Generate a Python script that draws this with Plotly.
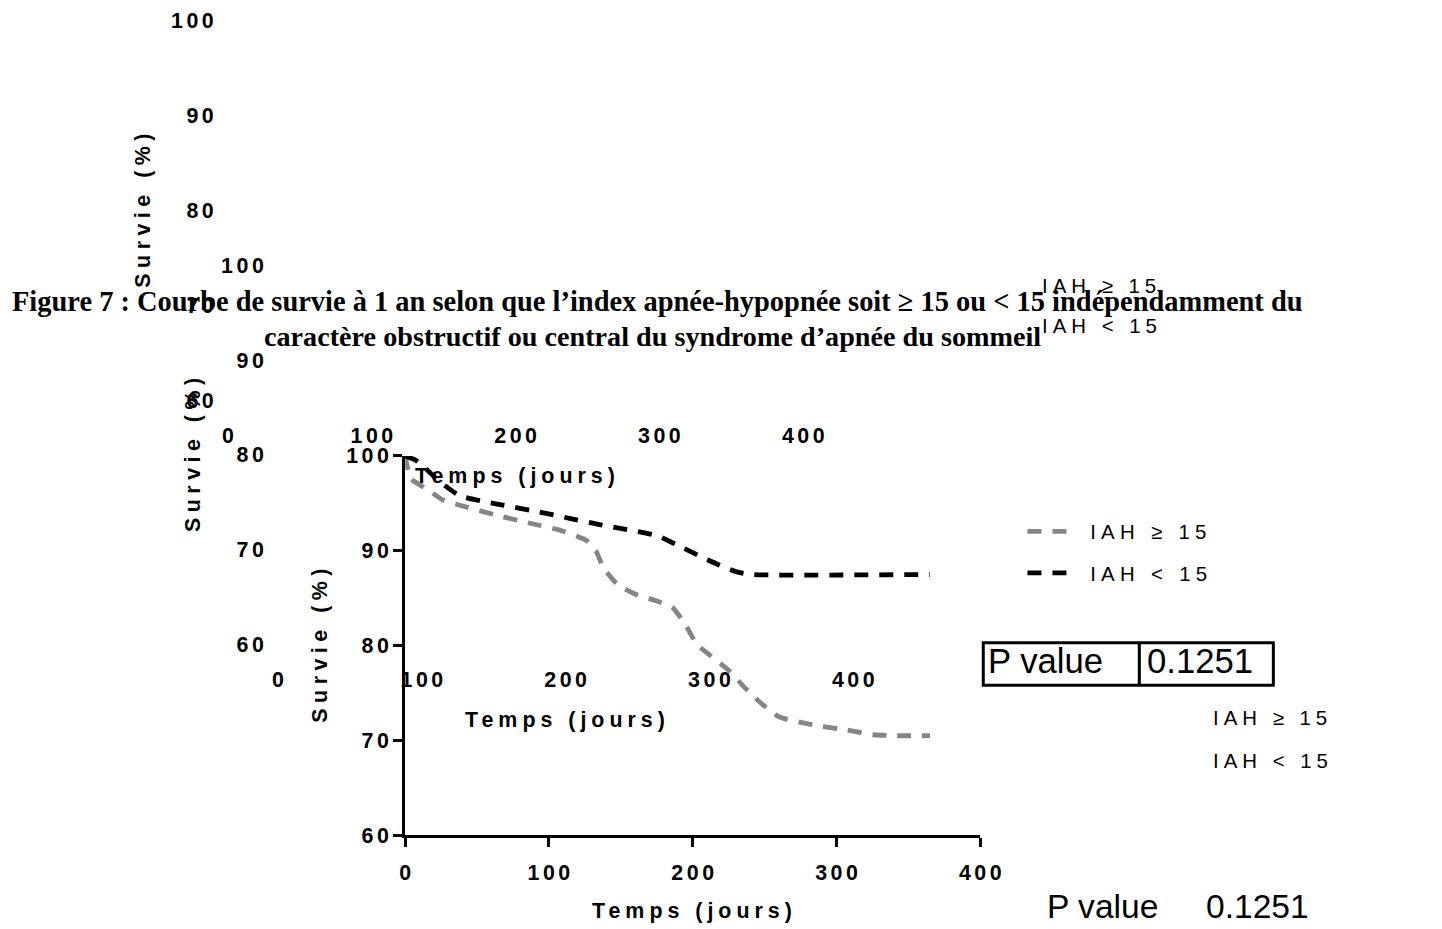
import plotly.graph_objects as go

# ---------------- data ----------------
series_names = ["IAH ≥ 15", "IAH &lt; 15"]
series_colors = ["#858585", "#000000"]

t_high = [0, 4, 13, 27, 38, 65, 87, 107, 126, 133, 138, 148, 159, 175, 186, 195,
          203, 211, 225, 236, 247, 260, 285, 307, 326, 340, 365]
s_high = [100, 97.6, 96.7, 95.3, 94.8, 93.7, 92.9, 92.2, 91.1, 89.9, 88.2, 86.4,
          85.5, 84.7, 84.0, 82.2, 80.1, 79.1, 77.4, 75.6, 74.0, 72.5, 71.6, 71.1,
          70.6, 70.5, 70.5]

t_low = [0, 8, 24, 38, 65, 93, 115, 137, 175, 192, 211, 230, 241, 365]
s_low = [100, 99.5, 97.3, 95.8, 94.9, 94.1, 93.4, 92.7, 91.6, 90.4, 89.0, 87.8,
         87.5, 87.5]

x_ticks = [0, 100, 200, 300, 400]
y_ticks = [60, 70, 80, 90, 100]
x_title = "Temps (jours)"
y_title = "Survie (%)"
p_label = "P value"
p_value = "0.1251"
caption_1 = ("Figure 7 : Courbe de survie à 1 an selon que l’index apnée-hypopnée "
             "soit ≥ 15 ou &lt; 15 indépendamment du")
caption_2 = "caractère obstructif ou central du syndrome d’apnée du sommeil"

# ---------------- layout helpers (target pixel positions -> paper) ----------------
W, H = 1442, 929
S, OFF = 0.981, 14.0


def X(xr):
    return min(1.0, max(0.0, ((xr - OFF) / S) / W))


def Y(yr):
    return min(1.0, max(0.0, 1 - ((yr - OFF) / S) / H))


def F(size):
    return round(size / S, 1)


def sp(text, ls):
    text = str(text)
    if len(text) < 2:
        return text
    return f"<span style='letter-spacing:{ls}px'>{text[:-1]}</span>{text[-1]}"


SANS = "Liberation Sans, Arial, sans-serif"
SERIF = "Liberation Serif, Times New Roman, serif"
tick_font = dict(family=SANS, size=F(21), color="black", weight="bold")
title_font = dict(family=SANS, size=F(21), color="black", weight="bold")
legend_font = dict(family=SANS, size=F(20), color="black")

# plot frame (target pixels)
X0, X1, YT, YB = 405, 980, 453, 835
# ghost copies of the axis texts (pixel offsets)
ghosts = [(-177, -438), (-127, -192)]

fig = go.Figure()

for name, t, s, c in zip(series_names, [t_high, t_low], [s_high, s_low], series_colors):
    fig.add_trace(go.Scatter(
        x=t, y=s, mode="lines", legendgroup=name,
        name=f"<span style='letter-spacing:12px'>\u00a0</span>" + sp(name, 5.3),
        line=dict(color=c, width=4.8, dash="14px,11px", shape="spline", smoothing=0.5),
        hoverinfo="skip"))

axis_common = dict(showgrid=False, zeroline=False, ticks="outside", ticklen=9,
                   tickwidth=3, tickfont=tick_font)

layout = dict(
    width=W, height=H, margin=dict(l=0, r=0, t=0, b=0),
    paper_bgcolor="white", plot_bgcolor="rgba(0,0,0,0)",
    xaxis=dict(domain=[X(X0), X(X1)], range=[0, 400], anchor="y",
               tickvals=x_ticks, ticktext=[sp(v, 3.5) for v in x_ticks],
               showline=True, linewidth=3, linecolor="black", tickcolor="black",
               ticklabelstandoff=7, **axis_common),
    yaxis=dict(domain=[Y(YB), Y(YT)], range=[60, 100], anchor="x",
               tickvals=y_ticks, ticktext=[sp(v, 3.5) for v in y_ticks],
               showline=True, linewidth=3, linecolor="black", tickcolor="black",
               **axis_common),
    showlegend=True,
    legend=dict(x=((1031 - OFF) / S - 9) / W, y=1 - ((529 - OFF - 20) / S) / H,
                xanchor="left", yanchor="top",
                font=legend_font, tracegroupgap=12, bgcolor="rgba(0,0,0,0)",
                itemwidth=40),
)

annotations = []
shapes = []

for i, (dx, dy) in enumerate([(0, 0)] + ghosts):
    annotations.append(dict(x=X(692 + dx), y=Y(911 + dy), xref="paper", yref="paper",
                            text=sp(x_title, 5), showarrow=False, font=title_font,
                            xanchor="center", yanchor="middle"))
    annotations.append(dict(x=X(320 + dx), y=Y(644 + dy), xref="paper", yref="paper",
                            text=sp(y_title, 5.5), showarrow=False, font=title_font,
                            textangle=-90, xanchor="center", yanchor="middle"))
    if i > 0:
        n = i + 1
        layout[f"xaxis{n}"] = dict(domain=[X(X0 + dx), X(X1 + dx)], range=[0, 400],
                                   anchor=f"y{n}", tickvals=x_ticks,
                                   ticktext=[sp(v, 3.5) for v in x_ticks], showline=False,
                                   tickcolor="rgba(0,0,0,0)", ticklabelstandoff=7,
                                   **axis_common)
        layout[f"yaxis{n}"] = dict(domain=[Y(YB + dy), Y(YT + dy)], range=[60, 100],
                                   anchor=f"x{n}", tickvals=y_ticks,
                                   ticktext=[sp(v, 3.5) for v in y_ticks], showline=False,
                                   tickcolor="rgba(0,0,0,0)", **axis_common)
        fig.add_trace(go.Scatter(x=[], y=[], xaxis=f"x{n}", yaxis=f"y{n}",
                                 showlegend=False, hoverinfo="skip"))

# ghost legends
for (lx, ly, gap) in [(1040, 284, 40), (1211, 719, 43)]:
    for k, name in enumerate(series_names):
        annotations.append(dict(x=X(lx), y=Y(ly - 2 + k * gap), xref="paper", yref="paper",
                                text=sp(name, 5.0), showarrow=False, font=legend_font,
                                xanchor="left", yanchor="middle"))

# P value table
shapes.append(dict(type="rect", xref="paper", yref="paper", x0=X(983), x1=X(1273),
                   y0=Y(684), y1=Y(641), line=dict(color="black", width=3)))
shapes.append(dict(type="line", xref="paper", yref="paper", x0=X(1139), x1=X(1139),
                   y0=Y(684), y1=Y(641), line=dict(color="black", width=3)))
for (cx1, cx2, cy, fs) in [(1045, 1200, 660, 34), (1102, 1257, 907, 33)]:
    pfont = dict(family=SANS, size=F(fs), color="black")
    annotations.append(dict(x=X(cx1), y=Y(cy), xref="paper", yref="paper", text=p_label,
                            showarrow=False, font=pfont, xanchor="center", yanchor="middle"))
    annotations.append(dict(x=X(cx2), y=Y(cy), xref="paper", yref="paper", text=p_value,
                            showarrow=False, font=pfont, xanchor="center", yanchor="middle"))

# caption
annotations.append(dict(x=X(657), y=Y(297), xref="paper", yref="paper", text=caption_1,
                        showarrow=False, xanchor="center", yanchor="middle", borderpad=0,
                        font=dict(family=SERIF, size=28.45, color="black", weight="bold")))
annotations.append(dict(x=X(652), y=Y(333), xref="paper", yref="paper", text=caption_2,
                        showarrow=False, xanchor="center", yanchor="middle", borderpad=0,
                        font=dict(family=SERIF, size=28.2, color="black", weight="bold")))

layout["annotations"] = annotations
layout["shapes"] = shapes
fig.update_layout(**layout)

fig.write_html("out.html", config={"displayModeBar": False})
